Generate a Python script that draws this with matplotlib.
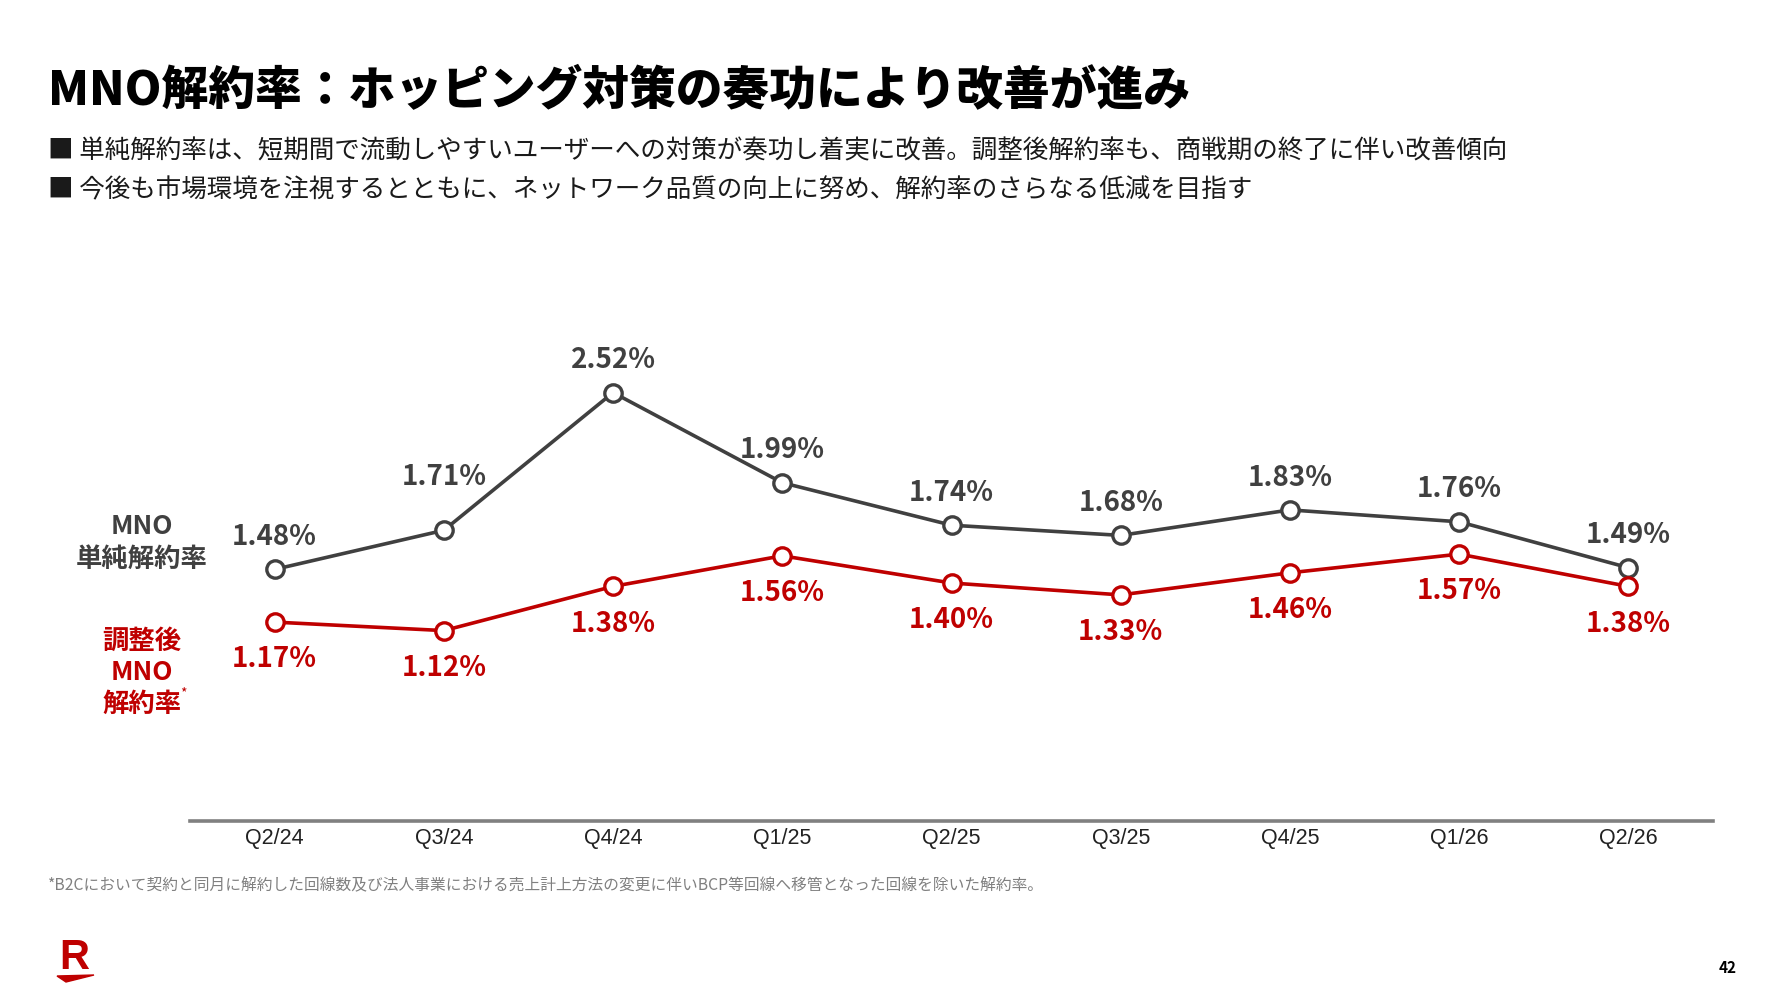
import matplotlib
matplotlib.use("Agg")
import matplotlib.pyplot as plt
from matplotlib.patches import Polygon

plt.rcParams['font.family'] = ['Noto Sans CJK JP', 'DejaVu Sans']

# データ
quarters = ["Q2/24", "Q3/24", "Q4/24", "Q1/25", "Q2/25", "Q3/25", "Q4/25", "Q1/26", "Q2/26"]
simple_churn = [1.48, 1.71, 2.52, 1.99, 1.74, 1.68, 1.83, 1.76, 1.49]
adjusted_churn = [1.17, 1.12, 1.38, 1.56, 1.40, 1.33, 1.46, 1.57, 1.38]

title = "MNO解約率：ホッピング対策の奏功により改善が進み"
bullets = [
    "■ 単純解約率は、短期間で流動しやすいユーザーへの対策が奏功し着実に改善。調整後解約率も、商戦期の終了に伴い改善傾向",
    "■ 今後も市場環境を注視するとともに、ネットワーク品質の向上に努め、解約率のさらなる低減を目指す",
]
footnote = "*B2Cにおいて契約と同月に解約した回線数及び法人事業における売上計上方法の変更に伴いBCP等回線へ移管となった回線を除いた解約率。"

GRAY = "#404040"
RED = "#BF0000"

W, H = 1785, 1004
fig = plt.figure(figsize=(W / 100, H / 100), dpi=100)
fig.patch.set_facecolor("white")

# タイトルと本文
fig.text(48 / W, 1 - 92 / H, title, fontsize=33.7, fontweight="heavy", va="center", ha="left", color="black")
for i, b in enumerate(bullets):
    fig.text(48 / W, 1 - (151 + 39 * i) / H, b, fontsize=18.4, va="center", ha="left", color="#1a1a1a")

# 折れ線
ax = fig.add_axes([190 / W, 1 - 822 / H, (1713 - 190) / W, (822 - 244) / H])
x = list(range(len(quarters)))
ax.plot(x, simple_churn, color=GRAY, lw=2.6, marker="o", ms=12.5, mfc="white", mec=GRAY, mew=2.4, zorder=3)
ax.plot(x, adjusted_churn, color=RED, lw=2.6, marker="o", ms=12.5, mfc="white", mec=RED, mew=2.4, zorder=3)

for xi, v in zip(x, simple_churn):
    dy = 39 if xi == 1 else 24  # Q3/24 は線を避けて少し上に
    ax.annotate(f"{v:.2f}%", (xi, v), xytext=(0, dy), textcoords="offset points",
                ha="center", va="center", fontsize=20, fontweight="bold", color=GRAY)
for xi, v in zip(x, adjusted_churn):
    ax.annotate(f"{v:.2f}%", (xi, v), xytext=(0, -26), textcoords="offset points",
                ha="center", va="center", fontsize=20, fontweight="bold", color=RED)

ax.set_xlim(-0.5, 8.5)
ax.set_ylim(0, 3.4)
ax.set_yticks([])
ax.set_xticks(x)
ax.set_xticklabels(quarters, fontsize=15.5, color="#222222", family=["Liberation Sans", "DejaVu Sans"])
ax.tick_params(axis="x", length=0, pad=4)
for s in ["top", "right", "left"]:
    ax.spines[s].set_visible(False)
ax.spines["bottom"].set_color("#808080")
ax.spines["bottom"].set_linewidth(2.6)
ax.set_facecolor("none")

# 系列名
fig.text(142 / W, 1 - 527 / H, "MNO", fontsize=19, fontweight="bold", color=GRAY, ha="center", va="center")
fig.text(142 / W, 1 - 559 / H, "単純解約率", fontsize=19, fontweight="bold", color=GRAY, ha="center", va="center")
fig.text(142 / W, 1 - 641 / H, "調整後", fontsize=19, fontweight="bold", color=RED, ha="center", va="center")
fig.text(142 / W, 1 - 673 / H, "MNO", fontsize=19, fontweight="bold", color=RED, ha="center", va="center")
fig.text(142 / W, 1 - 704 / H, "解約率", fontsize=19, fontweight="bold", color=RED, ha="center", va="center")
fig.text(180 / W, 1 - 693 / H, "*", fontsize=10, color=RED, ha="left", va="center")

# 注記
fig.text(48 / W, 1 - 886 / H, footnote, fontsize=11.3, color="#808080", ha="left", va="center")

# ロゴとページ番号
fig.text(74 / W, 1 - 958 / H, "R", fontsize=30, fontweight="heavy", color=RED, ha="center", va="center",
         family=["Liberation Sans", "DejaVu Sans"])
fig.patches.append(Polygon([[57 / W, 1 - 977 / H], [94 / W, 1 - 976 / H], [66 / W, 1 - 983 / H]],
                           closed=True, color=RED, transform=fig.transFigure))
fig.text(1728 / W, 1 - 968 / H, "42", fontsize=11, fontweight="bold", color="black", ha="center", va="center")

fig.savefig("out.png", dpi=100)
